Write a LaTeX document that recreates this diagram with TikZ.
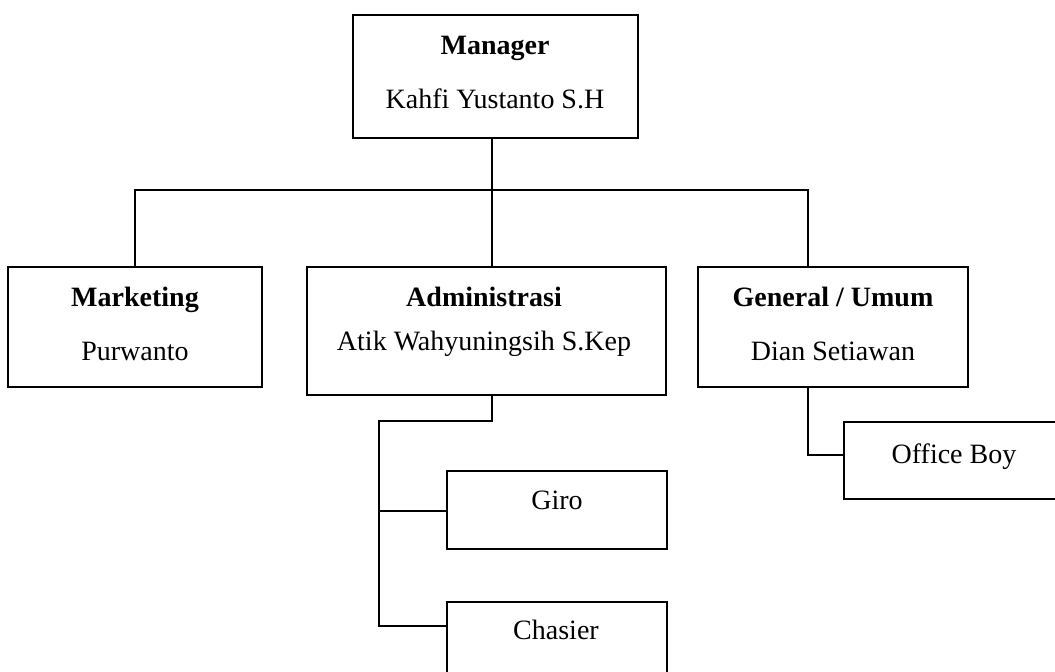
\documentclass[tikz,border=0pt]{standalone}
\usepackage{fontspec}
\setmainfont{Liberation Serif}
\begin{document}
\begin{tikzpicture}[x=1pt,y=-1pt,
  box/.style={draw, line width=1.8pt, rectangle, inner sep=0pt, outer sep=0pt},
  lbl/.style={font=\fontsize{28}{32}\selectfont, inner sep=0pt, anchor=base},
  blbl/.style={font=\fontsize{28}{32}\selectfont\bfseries, inner sep=0pt, anchor=base},
  conn/.style={line width=1.8pt}]
\useasboundingbox (0,0) rectangle (1055,672);
% boxes
\node[box, minimum width=285pt, minimum height=123pt] (mgr) at (495.5,76.5) {};
\node[box, minimum width=254pt, minimum height=120pt] (mkt) at (135,327) {};
\node[box, minimum width=359pt, minimum height=128pt] (adm) at (486.5,331) {};
\node[box, minimum width=270pt, minimum height=120pt] (gen) at (833,327) {};
\node[box, minimum width=220pt, minimum height=78pt] (giro) at (557,510) {};
\node[box, minimum width=220pt, minimum height=78pt] (chas) at (557,641) {};
\node[box, minimum width=220pt, minimum height=77pt] (ob) at (954,460.5) {};
% texts
\node[blbl] (t1) at (495,54) {Manager};
\node[lbl] (t2) at (495,108) {Kahfi Yustanto S.H};
\node[blbl] (t3) at (135,306) {Marketing};
\node[lbl] (t4) at (135,360) {Purwanto};
\node[blbl] (t5) at (484,306) {Administrasi};
\node[lbl] (t6) at (484,350) {Atik Wahyuningsih S.Kep};
\node[blbl] (t7) at (833,306) {General / Umum};
\node[lbl] (t8) at (833,360) {Dian Setiawan};
\node[lbl] (t9) at (557,509) {Giro};
\node[lbl] (t10) at (556,639) {Chasier};
\node[lbl] (t11) at (954,463) {Office Boy};
% connectors
\coordinate (bus) at (492,190);
\coordinate (gdrop) at (808,190);
\coordinate (aj) at (379,421);
\coordinate (cj) at (379,626);
\coordinate (oj) at (808,455);
\draw[conn] (mgr.south -| bus) -- (bus);
\draw[conn] (mkt.north) |- (gdrop) -- (gen.north -| gdrop);
\draw[conn] (bus) -- (adm.north -| bus);
\draw[conn] (adm.south -| bus) |- (aj) -- (cj) -- (cj -| chas.west);
\draw[conn] (aj |- 0,511) -- (giro.west |- 0,511);
\draw[conn] (gen.south -| oj) -- (oj) -- (oj -| ob.west);
\end{tikzpicture}
\end{document}
